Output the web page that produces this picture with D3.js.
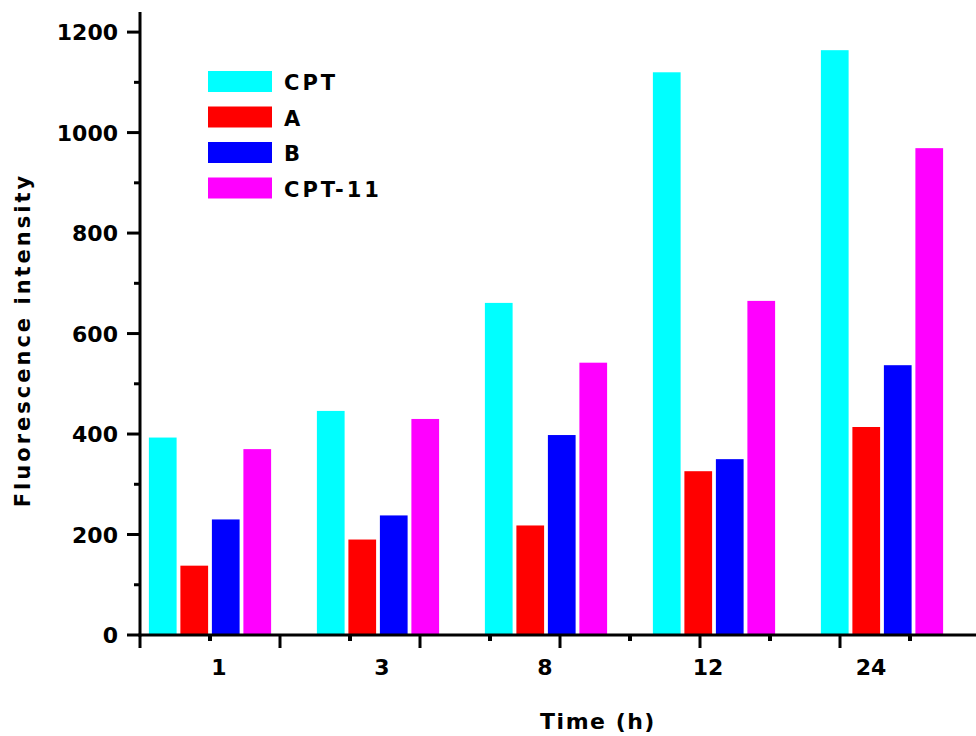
<!DOCTYPE html>
<html>
<head>
<meta charset="utf-8">
<script src="https://cdn.jsdelivr.net/npm/d3@7/dist/d3.min.js"></script>
<style>
  body { margin: 0; background: #fff; }
  text { font-family: "DejaVu Sans", Verdana, sans-serif; font-weight: bold; fill: #000; }
</style>
</head>
<body>
<svg id="chart" width="976" height="736"></svg>
<script>
// data
var times = ['1', '3', '8', '12', '24'];
var seriesNames = ['CPT', 'A', 'B', 'CPT-11'];
var seriesColors = ['#00ffff', '#ff0000', '#0000ff', '#ff00ff'];
var cptValues   = [393, 446, 661, 1120, 1164];
var aValues     = [138, 190, 218, 326, 414];
var bValues     = [230, 238, 398, 350, 537];
var cpt11Values = [370, 430, 542, 665, 969];
var yTicks = [0, 200, 400, 600, 800, 1000, 1200];

var seriesValues = [cptValues, aValues, bValues, cpt11Values];

var svg = d3.select('#chart');
var plotLeft = 140, plotBottom = 635, plotTop = 12, plotRight = 980;

var y = d3.scaleLinear().domain([0, 1240]).range([plotBottom, plotTop]);

// groups
var x0 = d3.scaleBand().domain(times).range([126, 966])
    .paddingInner(0.25).paddingOuter(0.125);
var x1 = d3.scaleBand().domain(seriesNames).range([0, x0.bandwidth()])
    .paddingInner(0.12).paddingOuter(0.06);

// Origin-style x ticks do not line up with the groups
var xTickScale = d3.scaleLinear().domain([0, 12]).range([plotLeft, plotLeft + 840]);
// label positions
var xLabel = d3.scalePoint().domain(times).range([219, 871]);

var rows = [];
times.forEach(function (t, i) {
    seriesNames.forEach(function (s, j) {
        rows.push({time: t, series: s, value: seriesValues[j][i], color: seriesColors[j]});
    });
});

svg.append('g').selectAll('rect')
    .data(rows)
  .enter().append('rect')
    .attr('x', function (d) { return x0(d.time) + x1(d.series); })
    .attr('y', function (d) { return y(d.value); })
    .attr('width', x1.bandwidth())
    .attr('height', function (d) { return plotBottom - y(d.value); })
    .style('fill', function (d) { return d.color; });

// y axis
var yAxis = svg.append('g');
yAxis.append('line')
    .attr('x1', plotLeft).attr('x2', plotLeft)
    .attr('y1', plotTop).attr('y2', plotBottom + 1.5)
    .style('stroke', '#000').style('stroke-width', 3);
yAxis.selectAll('.major')
    .data(yTicks)
  .enter().append('line')
    .attr('x1', plotLeft - 13).attr('x2', plotLeft)
    .attr('y1', function (d) { return y(d); })
    .attr('y2', function (d) { return y(d); })
    .style('stroke', '#000').style('stroke-width', 3);
yAxis.selectAll('.minor')
    .data(d3.range(100, 1240, 200))
  .enter().append('line')
    .attr('x1', plotLeft - 6).attr('x2', plotLeft)
    .attr('y1', function (d) { return y(d); })
    .attr('y2', function (d) { return y(d); })
    .style('stroke', '#000').style('stroke-width', 3);
yAxis.selectAll('text')
    .data(yTicks)
  .enter().append('text')
    .attr('x', 118)
    .attr('y', function (d) { return y(d) + 8; })
    .style('text-anchor', 'end')
    .style('font-size', '22px')
    .text(function (d) { return d; });

// x axis
var xAxis = svg.append('g');
xAxis.append('line')
    .attr('x1', plotLeft - 1.5).attr('x2', plotRight)
    .attr('y1', plotBottom).attr('y2', plotBottom)
    .style('stroke', '#000').style('stroke-width', 3);
xAxis.selectAll('.major')
    .data(d3.range(0, 13, 2))
  .enter().append('line')
    .attr('x1', function (d) { return xTickScale(d); })
    .attr('x2', function (d) { return xTickScale(d); })
    .attr('y1', plotBottom).attr('y2', plotBottom + 13)
    .style('stroke', '#000').style('stroke-width', 3);
xAxis.selectAll('.minor')
    .data(d3.range(1, 12, 2))
  .enter().append('line')
    .attr('x1', function (d) { return xTickScale(d); })
    .attr('x2', function (d) { return xTickScale(d); })
    .attr('y1', plotBottom).attr('y2', plotBottom + 6)
    .style('stroke', '#000').style('stroke-width', 4);
xAxis.selectAll('text')
    .data(times)
  .enter().append('text')
    .attr('x', function (d) { return xLabel(d); })
    .attr('y', 675)
    .style('text-anchor', 'middle')
    .style('font-size', '22px')
    .text(function (d) { return d; });

// axis titles
svg.append('text')
    .attr('x', 598).attr('y', 729)
    .style('text-anchor', 'middle')
    .style('font-size', '22px')
    .style('letter-spacing', '1.5px')
    .text('Time (h)');
svg.append('text')
    .attr('transform', 'translate(30,340) rotate(-90)')
    .style('text-anchor', 'middle')
    .style('font-size', '21px')
    .style('letter-spacing', '3px')
    .text('Fluorescence intensity');

// legend
var legend = svg.append('g').selectAll('g')
    .data(seriesNames)
  .enter().append('g')
    .attr('transform', function (d, i) { return 'translate(208,' + (71 + i * 35.5) + ')'; });
legend.append('rect')
    .attr('width', 64).attr('height', 21)
    .style('fill', function (d, i) { return seriesColors[i]; });
legend.append('text')
    .attr('x', 76).attr('y', 19)
    .style('font-size', '21px')
    .style('letter-spacing', '3px')
    .text(function (d) { return d; });
</script>
</body>
</html>
